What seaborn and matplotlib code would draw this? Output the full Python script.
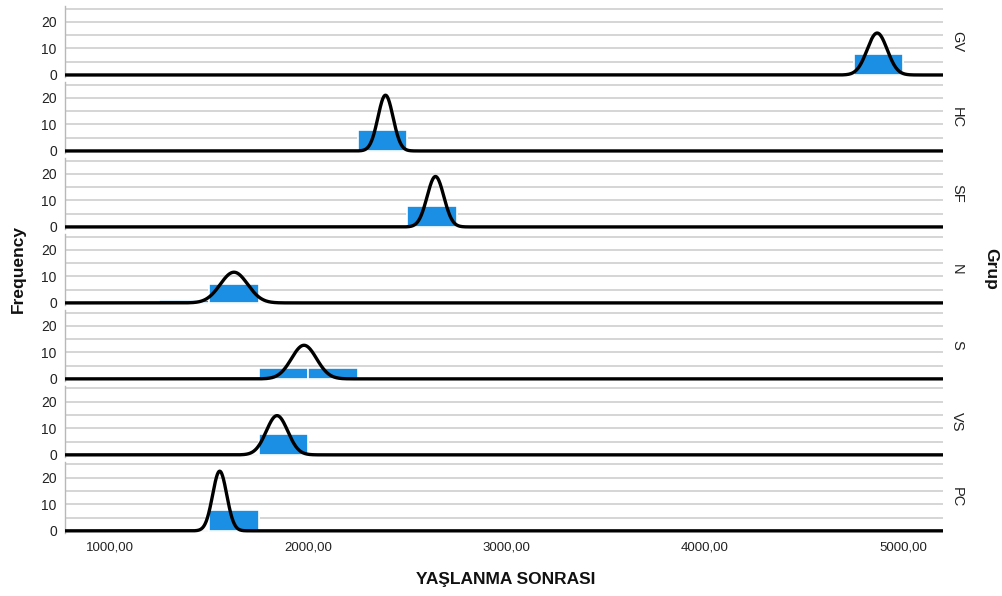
import numpy as np
import pandas as pd
import matplotlib
matplotlib.use("Agg")
import matplotlib.pyplot as plt
import seaborn as sns
from matplotlib.ticker import FuncFormatter, MultipleLocator

# Group panels, top to bottom
groups = ["GV", "HC", "SF", "N", "S", "VS", "PC"]

# Histogram bins (left edge of each non-empty bin) and their counts
bin_width = 250
bar_left = [[4750], [2250], [2500], [1250, 1500], [1750, 2000], [1750], [1500]]
bar_count = [[8], [8], [8], [1, 7], [4, 4], [8], [8]]

# Normal curve parameters per group
group_mean = [4869, 2390, 2642, 1626, 1979, 1843, 1554]
group_sd = [50.5, 38, 42, 69, 63, 54, 35.5]
group_n = [8, 8, 8, 8, 8, 8, 8]

x_ticks = [1000, 2000, 3000, 4000, 5000]
x_range = (775, 5200)

sns.set_theme(style="white")
plt.rcParams["font.family"] = ["Liberation Sans", "DejaVu Sans"]

bar_color = "#1a8fe3"
grid_color = "#d2d2d2"

fig, axes = plt.subplots(len(groups), 1, sharex=True, figsize=(10.03, 5.96), dpi=100)
fig.subplots_adjust(left=0.065, right=0.940, top=0.990, bottom=0.106, hspace=0.07)

edges = [float(e) for e in np.arange(1000, 5251, bin_width)]
xs = np.linspace(x_range[0], x_range[1], 3000)

for i, ax in enumerate(axes):
    centers = [l + bin_width / 2 for l in bar_left[i]]
    df = pd.DataFrame({"v": centers, "w": bar_count[i]})
    sns.histplot(data=df, x="v", weights="w", bins=edges, ax=ax,
                 color=bar_color, edgecolor="white", linewidth=1.2,
                 alpha=1.0, zorder=2)
    m, s, n = group_mean[i], group_sd[i], group_n[i]
    curve = n * bin_width * np.exp(-0.5 * ((xs - m) / s) ** 2) / (s * np.sqrt(2 * np.pi))
    sns.lineplot(x=xs, y=curve, ax=ax, color="black", linewidth=2.4, zorder=3)

    ax.set_xlim(*x_range)
    ax.set_ylim(-0.75, 26)
    ax.yaxis.set_major_locator(MultipleLocator(10))
    ax.yaxis.set_minor_locator(MultipleLocator(5))
    ax.grid(True, which="both", axis="y", color=grid_color, linewidth=1.3, zorder=0)
    ax.set_axisbelow(True)
    ax.set_ylabel("")
    ax.set_xlabel("")
    for side in ["top", "right", "bottom"]:
        ax.spines[side].set_visible(False)
    ax.spines["left"].set_color("#b8b8b8")
    ax.spines["left"].set_linewidth(1.0)
    ax.tick_params(axis="y", length=0, labelsize=10, colors="#222222", pad=6)
    ax.tick_params(axis="x", length=0, labelsize=9.5, colors="#222222", pad=6)
    ax.text(1.016, 0.5, groups[i], transform=ax.transAxes, rotation=-90,
            ha="center", va="center", fontsize=10.5, color="#222222")

axes[-1].set_xticks(x_ticks)
axes[-1].xaxis.set_major_formatter(FuncFormatter(lambda v, p: f"{v:.2f}".replace(".", ",")))

fig.text(0.018, 0.548, "Frequency", rotation=90, ha="center", va="center",
         fontsize=12.5, fontweight="bold", color="#111111")
fig.text(0.988, 0.548, "Grup", rotation=-90, ha="center", va="center",
         fontsize=12.5, fontweight="bold", color="#111111")
fig.text(0.504, 0.027, "YAŞLANMA SONRASI", ha="center", va="center",
         fontsize=12.5, fontweight="bold", color="#111111")

fig.savefig("out.png", dpi=100)
